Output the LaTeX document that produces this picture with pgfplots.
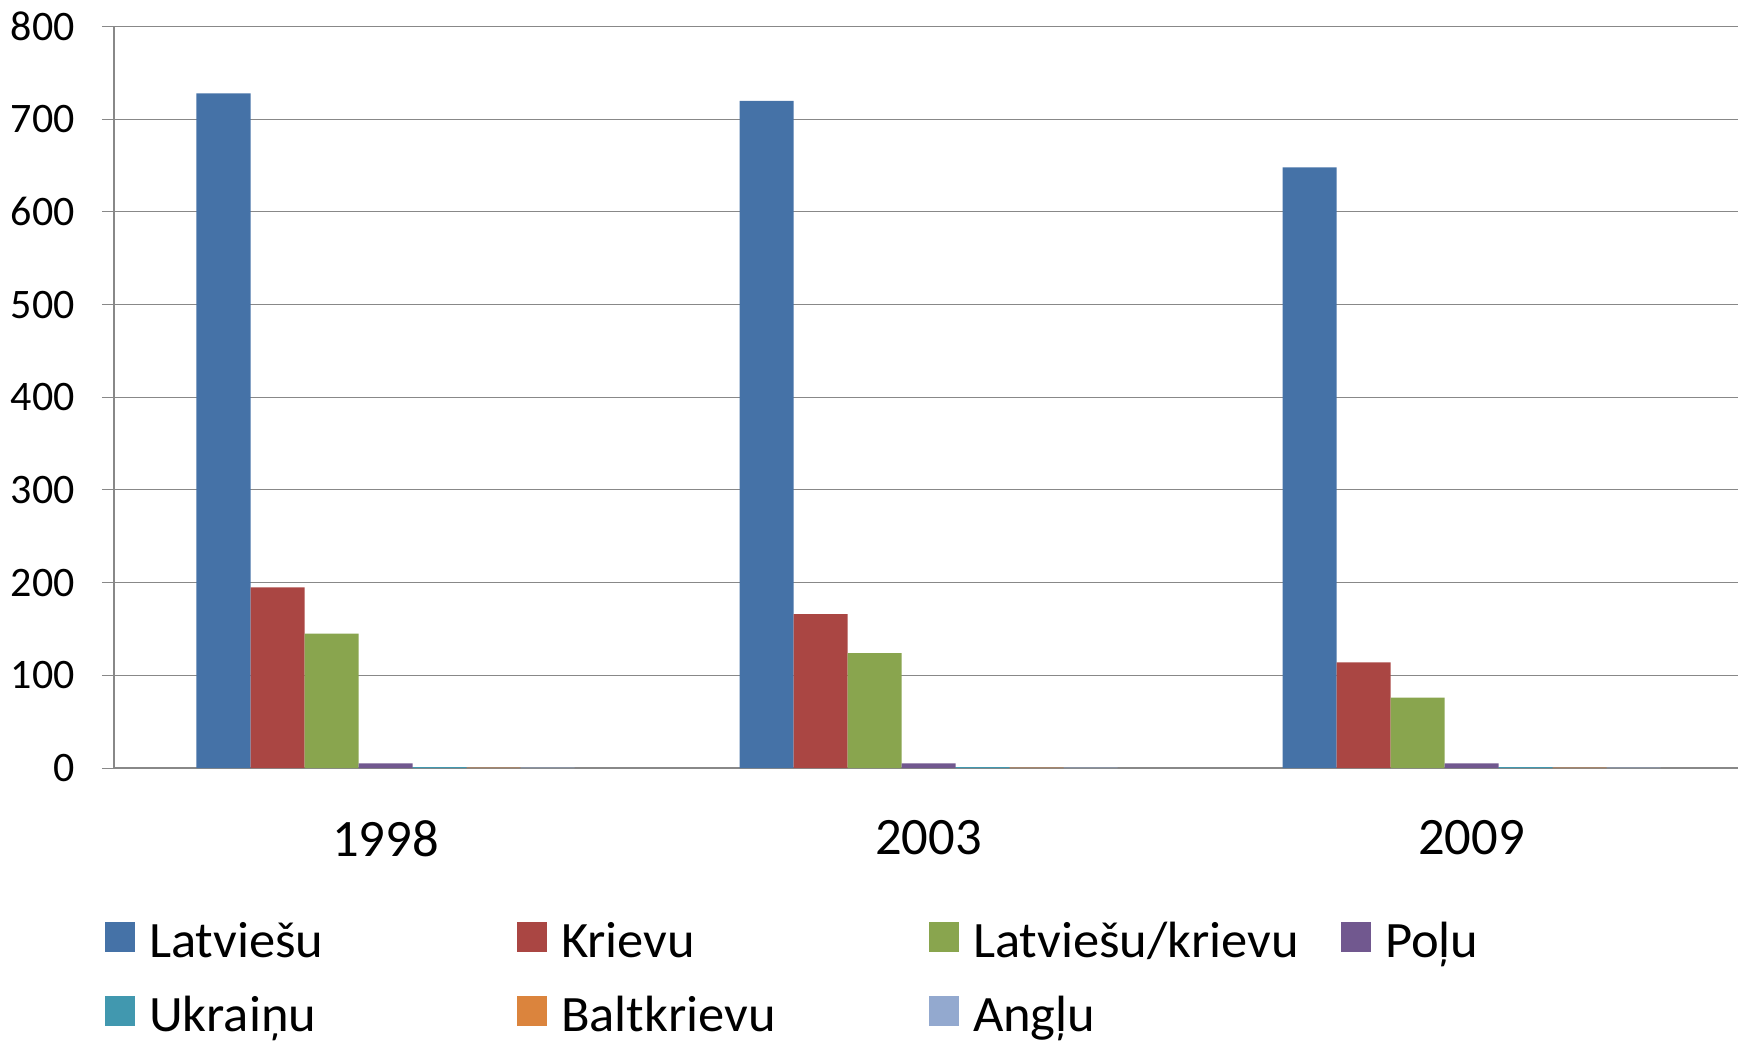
\documentclass[border=0pt]{standalone}
\usepackage{pgfplots}
\pgfplotsset{compat=1.18}
\usepackage{fontspec}
\setmainfont{Carlito}
\newfontfamily\legfont[FakeStretch=1.03]{Carlito}
\definecolor{c1}{HTML}{4572A7}
\definecolor{c2}{HTML}{AA4643}
\definecolor{c3}{HTML}{89A54E}
\definecolor{c4}{HTML}{71588F}
\definecolor{c5}{HTML}{4198AF}
\definecolor{c6}{HTML}{DB843D}
\definecolor{c7}{HTML}{93A9CF}
\definecolor{axisgray}{HTML}{888888}
\begin{document}
\begin{tikzpicture}
\clip (-57pt,-136.5pt) rectangle (812pt,384pt);
\begin{axis}[
 at={(0,0)}, anchor=south west,
 scale only axis, width=814.5pt, height=370.7pt,
 ybar=0pt, bar width=27pt,
 xmin=-0.5, xmax=2.5, ymin=0, ymax=800,
 xtick={0,1,2}, xticklabels={1998,2003,2009},
 ytick={0,100,...,800},
 axis x line=bottom, axis y line=left,
 axis line style={-, draw=axisgray, line width=0.8pt},
 ymajorgrids, grid style={draw=axisgray, line width=0.5pt},
 xtick style={draw=none},
 ytick style={draw=axisgray, line width=0.5pt},
 tick align=outside, major tick length=6pt,
 /pgf/number format/assume math mode=true,
 yticklabel style={font=\fontsize{21}{25}\selectfont, inner sep=0pt, anchor=east, xshift=-13.4pt},
 xticklabel style={font=\fontsize{26.3}{31}\selectfont, inner sep=0pt, anchor=north, yshift=-20pt},
 legend columns=4,
 legend cell align=left,
 legend image code/.code={\fill[#1] (0pt,-5.5pt) rectangle (15pt,9.5pt);},
 legend style={at={(-0.005525,-0.2064)}, anchor=north west, draw=none, fill=none,
   inner sep=0pt, outer sep=0pt, font=\legfont\fontsize{25.5}{30}\selectfont,
   column sep=0pt, row sep=17.75pt, nodes={inner sep=0pt, outer sep=0pt},
   /tikz/every odd column/.append style={column sep=7pt},
   /tikz/every even column/.append style={text width=184pt, text height=18pt, text depth=6pt}},
]
\addplot[fill=c1, draw=none] coordinates {(0,728) (1,720) (2,648)};
\addplot[fill=c2, draw=none] coordinates {(0,195) (1,166) (2,114)};
\addplot[fill=c3, draw=none] coordinates {(0,145) (1,124) (2,76)};
\addplot[fill=c4, draw=none] coordinates {(0,5) (1,5) (2,5)};
\addplot[fill=c5, draw=none] coordinates {(0,1) (1,1) (2,1)};
\addplot[fill=c6, draw=none] coordinates {(0,0.5) (1,0.5) (2,0.5)};
\addplot[fill=c7, draw=none] coordinates {(0,0.3) (1,0.3) (2,0.3)};
\legend{Latviešu,Krievu,Latviešu/krievu,Poļu,Ukraiņu,Baltkrievu,Angļu}
\end{axis}
\end{tikzpicture}
\end{document}
